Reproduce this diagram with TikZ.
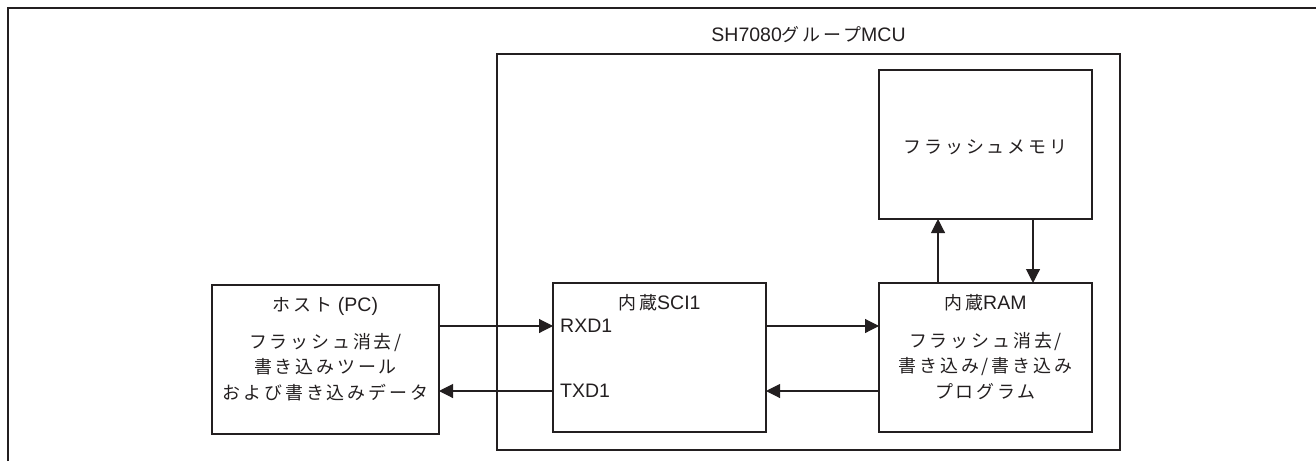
\documentclass[tikz,border=0pt]{standalone}
\usepackage{fontspec}
\setmainfont{Liberation Sans}
\newfontfamily\jp{Noto Sans CJK JP}[Scale=0.92,LetterSpace=16]
\usepackage{tikz}
\usetikzlibrary{arrows.meta,positioning}
\definecolor{ink}{HTML}{231F20}

\begin{document}
\begin{tikzpicture}[x=1pt,y=-1pt,
  blk/.style={rectangle,draw=ink,line width=1.1pt,inner sep=0pt,outer sep=0pt,
    minimum width=213pt,minimum height=149pt},
  txt/.style={inner sep=0pt,align=center,text=ink},
  arr/.style={draw=ink,line width=1.1pt,-{Triangle[length=14pt,width=14pt]}},
  every node/.style={font=\fontsize{19.5}{25.5}\selectfont}]
  \useasboundingbox (0,0) rectangle (1316,461);
  % outer frame (open at right and bottom)
  \draw[ink,line width=2.2pt] (8,461) -- (8,8) -- (1316,8);
  % MCU
  \node[blk,minimum width=623pt,minimum height=396pt] (mcu) at (808.5,252) {};
  \node[txt,above=11pt of mcu.north] (mcuT) {SH7080{\jp グループ}MCU};
  % blocks
  \node[blk,minimum width=227pt] (host) at (325.5,359.5) {};
  \node[blk] (sci) at (659.5,357.5) {};
  \node[blk] (ram) at (985.5,357.5) {};
  \node[blk] (flash) at (985.5,144.5) {};
  % texts
  \node[txt,below=12pt of host.north] (hostT) {{\jp ホスト} (PC)};
  \node[txt] (hostB) at (325.5,367) {{\jp フラッシュ消去/}\\{\jp 書き込みツール}\\{\jp および書き込みデータ}};
  \node[txt,below=11pt of sci.north] (sciT) {{\jp 内蔵}SCI1};
  \node[txt] (flashT) at (985.5,147) {\jp フラッシュメモリ};
  \node[txt,below=11pt of ram.north] (ramT) {{\jp 内蔵}RAM};
  \node[txt] (ramB) at (985.5,366) {{\jp フラッシュ消去/}\\{\jp 書き込み/書き込み}\\{\jp プログラム}};
  % rows and columns of the connectors
  \coordinate (rxrow) at (0,326);
  \coordinate (txrow) at (0,391);
  \coordinate (upcol) at (938,0);
  \coordinate (dncol) at (1033,0);
  \node[txt,anchor=west] (rxd) at (sci.west |- rxrow) {\hspace{7pt}RXD1};
  \node[txt,anchor=west] (txd) at (sci.west |- txrow) {\hspace{7pt}TXD1};
  % connectors
  \draw[arr] (host.east |- rxrow) -- (sci.west |- rxrow);
  \draw[arr] (sci.west |- txrow) -- (host.east |- txrow);
  \draw[arr] (sci.east |- rxrow) -- (ram.west |- rxrow);
  \draw[arr] (ram.west |- txrow) -- (sci.east |- txrow);
  \draw[arr] (ram.north -| upcol) -- (flash.south -| upcol);
  \draw[arr] (flash.south -| dncol) -- (ram.north -| dncol);
\end{tikzpicture}
\end{document}
